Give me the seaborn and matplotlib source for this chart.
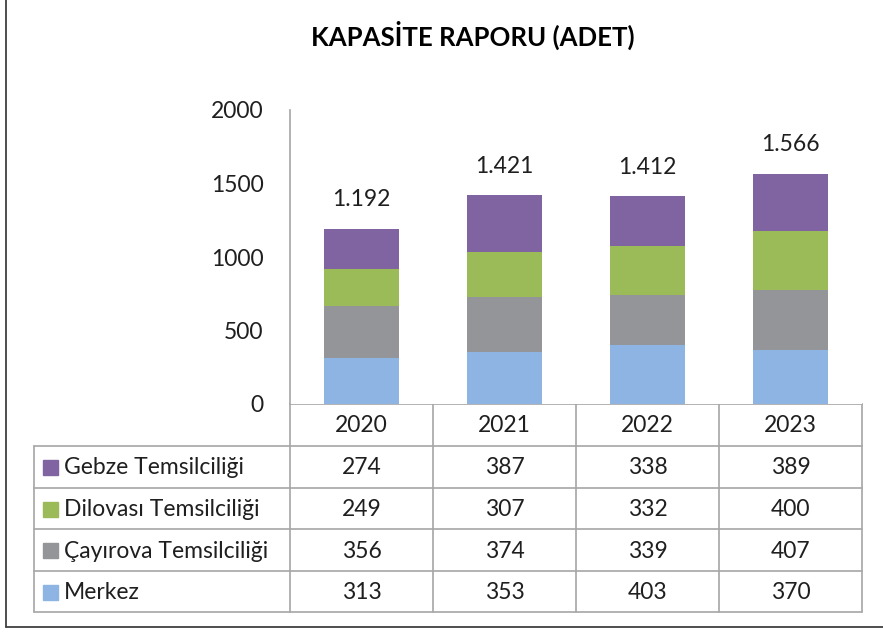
import numpy as np
import pandas as pd
import matplotlib
matplotlib.use("Agg")
import matplotlib.pyplot as plt
import seaborn as sns
from matplotlib.patches import Rectangle

years = ["2020", "2021", "2022", "2023"]
series = ["Merkez", "Çayırova Temsilciliği", "Dilovası Temsilciliği", "Gebze Temsilciliği"]
merkez = [313, 353, 403, 370]
cayirova = [356, 374, 339, 407]
dilovasi = [249, 307, 332, 400]
gebze = [274, 387, 338, 389]
colors = ["#8EB4E3", "#939598", "#9BBB59", "#8064A2"]
y_ticks = [0, 500, 1000, 1500, 2000]

values = [merkez, cayirova, dilovasi, gebze]
totals = np.sum(values, axis=0)

sns.set_theme(style="white")
plt.rcParams["font.family"] = ["Lato", "DejaVu Sans"]
text_color = "#1F1F1F"
grid_color = "#A6A6A6"
fs = 16.5

W, H = 883, 634
fig = plt.figure(figsize=(W / 100, H / 100), dpi=100)

# plot area in pixel layout
x0, x1 = 290, 862
y_top, y_zero = 110, 404
ax = fig.add_axes([x0 / W, 1 - y_zero / H, (x1 - x0) / W, (y_zero - y_top) / H])

# stacked bars: draw cumulative sums from the top series down
df = pd.DataFrame({"year": years})
cum = np.cumsum(values, axis=0)
for i in reversed(range(len(series))):
    df["v"] = cum[i]
    sns.barplot(data=df, x="year", y="v", color=colors[i], width=0.52,
                saturation=1, linewidth=0, ax=ax)

for i, t in enumerate(totals):
    ax.text(i, t + 125, f"{t:,}".replace(",", "."), ha="center", va="bottom",
            fontsize=fs, color=text_color)

ax.set_ylim(0, 2000)
ax.set_xlim(-0.5, len(years) - 0.5)
ax.set_yticks(y_ticks)
ax.set_yticklabels([str(v) for v in y_ticks], fontsize=fs, color=text_color)
ax.tick_params(axis="y", length=0, pad=19)
ax.set_xticks([])
ax.set_xlabel("")
ax.set_ylabel("")
for s in ["top", "right", "bottom"]:
    ax.spines[s].set_visible(False)
ax.spines["left"].set_color(grid_color)
ax.spines["left"].set_linewidth(1.2)

# overlay axes in pixel coordinates for table and frame
ov = fig.add_axes([0, 0, 1, 1], zorder=-1)
ov.set_xlim(0, W)
ov.set_ylim(H, 0)
ov.axis("off")

ov.text(473, 35, "KAPASİTE RAPORU (ADET)", ha="center", va="center",
        fontsize=18.5, fontweight="bold", color="black")

# outer frame (left and bottom edges)
ov.plot([6, 6], [0, 627], color="#404040", lw=1.3)
ov.plot([6, W], [627, 627], color="#404040", lw=1.3)

col_w = (x1 - x0) / len(years)
col_edges = [x0 + k * col_w for k in range(len(years) + 1)]
row_edges = [404, 446, 488, 529, 571, 612]
label_left = 34

# header row (years)
for e in col_edges:
    ov.plot([e, e], [row_edges[0], row_edges[-1]], color=grid_color, lw=1.2)
ov.plot([x0, x1], [row_edges[0], row_edges[0]], color=grid_color, lw=1.2)
for r in row_edges[1:]:
    ov.plot([label_left, x1], [r, r], color=grid_color, lw=1.2)
ov.plot([label_left, label_left], [row_edges[1], row_edges[-1]], color=grid_color, lw=1.2)

for k, yr in enumerate(years):
    ov.text(x0 + (k + 0.5) * col_w, (row_edges[0] + row_edges[1]) / 2 + 1, yr,
            ha="center", va="center", fontsize=fs, color=text_color)

# data rows, top series first
for r, i in enumerate(reversed(range(len(series)))):
    yc = (row_edges[r + 1] + row_edges[r + 2]) / 2 + 1
    ov.add_patch(Rectangle((43, yc - 8), 15, 15, color=colors[i]))
    ov.text(64, yc, series[i], ha="left", va="center", fontsize=fs, color=text_color)
    for k in range(len(years)):
        ov.text(x0 + (k + 0.5) * col_w, yc, str(values[i][k]),
                ha="center", va="center", fontsize=fs, color=text_color)

fig.savefig("out.png", dpi=100)
